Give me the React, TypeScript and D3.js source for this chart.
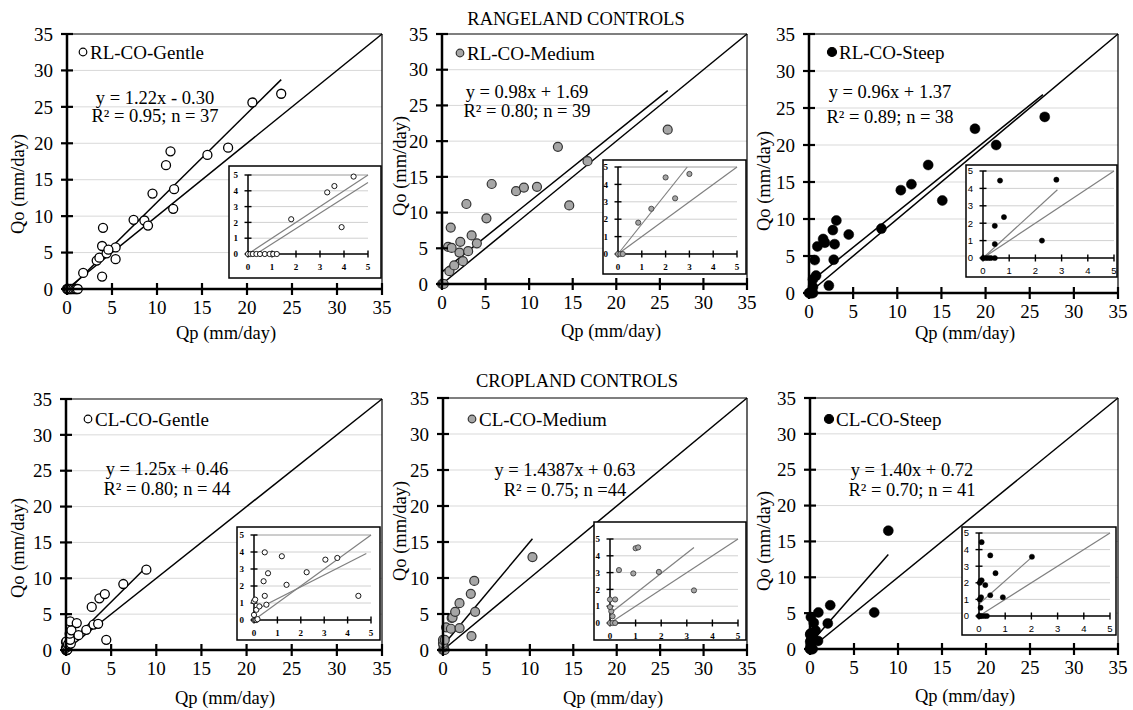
import React from 'react';
import * as d3 from 'd3';

type Pt = [number, number];

// ---------- DATA ----------
const axisTicks = [0, 5, 10, 15, 20, 25, 30, 35];
const insetTicks = [0, 1, 2, 3, 4, 5];
const rowTitles = ['RANGELAND CONTROLS', 'CROPLAND CONTROLS'];
const xLabel = 'Qp (mm/day)';
const yLabel = 'Qo (mm/day)';

const seriesNames = ['RL-CO-Gentle', 'RL-CO-Medium', 'RL-CO-Steep', 'CL-CO-Gentle', 'CL-CO-Medium', 'CL-CO-Steep'];
const equationTexts = ['y = 1.22x - 0.30', 'y = 0.98x + 1.69', 'y = 0.96x + 1.37', 'y = 1.25x + 0.46', 'y = 1.4387x + 0.63', 'y = 1.40x + 0.72'];
const statTexts = ['R² = 0.95; n = 37', 'R² = 0.80; n = 39', 'R² = 0.89; n = 38', 'R² = 0.80; n = 44', 'R² = 0.75; n =44', 'R² = 0.70; n = 41'];
const slopeClasses = ['gentle', 'medium', 'steep', 'gentle', 'medium', 'steep'];

const rlGentle: Pt[] = [
  [0, 0], [0.1, 0], [0.2, 0], [0.35, 0], [0.5, 0], [0.7, 0], [0.9, 0], [1.05, 0], [1.2, 0],
  [1.8, 2.2], [3.3, 3.9], [3.6, 4.3], [4.4, 4.9], [3.9, 1.7],
  [5.4, 5.7], [5.4, 4.1], [3.9, 5.9], [4.6, 5.4], [4.0, 8.4],
  [7.4, 9.5], [8.6, 9.4], [9.0, 8.7], [9.5, 13.1], [11.0, 17.0], [11.5, 18.9],
  [11.9, 13.7], [11.8, 11.0], [15.6, 18.4], [17.9, 19.4], [20.6, 25.6], [23.8, 26.8],
];
const rlMedium: Pt[] = [
  [0, 0], [0.1, 0], [0.2, 0],
  [0.85, 1.8], [1.4, 2.6], [2.0, 4.4], [2.4, 3.2], [3.0, 4.6],
  [0.7, 5.2], [1.1, 5.05], [2.1, 5.9], [3.4, 6.8], [4.0, 5.7], [1.0, 7.9], [2.8, 11.2],
  [5.1, 9.2], [5.7, 14.0], [8.5, 13.0], [9.4, 13.5], [10.9, 13.6], [13.3, 19.2],
  [14.6, 11.0], [16.7, 17.2], [25.9, 21.6],
];
const rlSteep: Pt[] = [
  [0, 0], [0.1, 0], [0.2, 0], [0.3, 0], [0.45, 0],
  [0.45, 0.8], [0.45, 1.85], [0.8, 2.35], [0.65, 4.45], [2.8, 4.5], [2.25, 1.0],
  [0.95, 6.3], [1.6, 7.3], [1.8, 6.8], [2.7, 8.5], [3.1, 9.8], [2.9, 6.6], [4.5, 7.9],
  [8.2, 8.7], [10.4, 13.9], [11.6, 14.7], [13.5, 17.3], [15.1, 12.5],
  [18.8, 22.2], [21.2, 20.0], [26.7, 23.8],
];
const clGentle: Pt[] = [
  [0, 0], [0.05, 0], [0.1, 0], [0.15, 0.05], [0, 0.3], [0.1, 0.6], [0, 1.1], [0.05, 1.2],
  [0.23, 0.8], [0.53, 0.9], [0.46, 1.42], [0.41, 2.28], [0.6, 2.75], [0.46, 3.98],
  [1.19, 3.75], [1.39, 2.07], [2.25, 2.81], [3.05, 3.55], [3.56, 3.65], [4.46, 1.42],
  [2.85, 6.0], [3.7, 7.2], [4.3, 7.8], [6.35, 9.2], [8.9, 11.2],
];
const clMedium: Pt[] = [
  [0, 0], [0.1, 0], [0.2, 0], [0.1, 0.4], [0.05, 0.7], [0, 0.95], [0, 1.4], [0.2, 1.4],
  [0.35, 3.15], [0.91, 2.95], [1.91, 3.04], [3.28, 1.94], [1.0, 4.45], [1.1, 4.5],
  [1.4, 5.3], [3.7, 5.3], [1.9, 6.5], [3.2, 7.8], [3.6, 9.6], [10.3, 12.9],
];
const clSteep: Pt[] = [
  [0, 0], [0.05, 0], [0.1, 0], [0.2, 0], [0.3, 0],
  [0.06, 0.5], [0.03, 1.0], [0.08, 1.13], [0.43, 1.25], [0.91, 1.13], [0.24, 1.86],
  [0.03, 2.0], [0.06, 2.12], [0.1, 2.15], [0.63, 2.58], [2.02, 3.57], [0.43, 3.65], [0.1, 4.45],
  [0.95, 5.1], [2.3, 6.1], [7.3, 5.1], [8.9, 16.5],
];
const panelData = [rlGentle, rlMedium, rlSteep, clGentle, clMedium, clSteep];

const fitSlopes = [1.22, 0.98, 0.96, 1.25, 1.4387, 1.4];
const fitIntercepts = [-0.3, 1.69, 1.37, 0.46, 0.63, 0.72];
const fitXStart = [0.25, 0, 0, 0, 0, 0];
const fitXEnd = [23.8, 25.9, 26.5, 8.9, 10.3, 8.9];

const insetFitSlopes = [0.97, 1.72, 1.38, 0.7, 1.2, 1.4];
const insetFitIntercepts = [-0.33, 0, 0, 0.55, 0.56, 0.72];
const insetFitXStart = [0.34, 0, 0, 0, 0, 0];
const insetFitXEnd = [5, 2.91, 2.84, 4.8, 3.28, 2.02];

// ---------- LAYOUT ----------
const layouts = [
  { x0: 67, x1: 382, yb: 289, yt: 34, box: [229, 166, 152, 112], ip: [248, 368, 254, 175], leg: [83, 52], eq: [155, 104, 122], yl: [18, 184], xl: [226, 339], insetSans: false },
  { x0: 442, x1: 747, yb: 284, yt: 34, box: [603, 160, 143, 114], ip: [618, 737, 254, 167], leg: [460, 53], eq: [527, 98, 117], yl: [400, 166], xl: [611, 337], insetSans: false },
  { x0: 809, x1: 1118, yb: 293, yt: 34, box: [966, 165, 151, 112], ip: [983, 1114, 258, 171], leg: [832, 52], eq: [890, 98, 123], yl: [764, 181], xl: [965, 339], insetSans: true },
  { x0: 66, x1: 382, yb: 650, yt: 399, box: [237, 527, 143, 113], ip: [254, 371, 620, 535], leg: [88, 419], eq: [167, 475, 495], yl: [18, 548], xl: [225, 704], insetSans: false },
  { x0: 443, x1: 747, yb: 650, yt: 398, box: [594, 522, 152, 118], ip: [610, 738, 623, 539], leg: [472, 419], eq: [565, 476, 496], yl: [400, 531], xl: [613, 704], insetSans: false },
  { x0: 810, x1: 1118, yb: 649, yt: 398, box: [962, 527, 154, 108], ip: [979, 1110, 616, 533], leg: [829, 419], eq: [912, 476, 496], yl: [764, 541], xl: [965, 702], insetSans: true },
];
const titlePos = [[576, 25], [577, 387]];

const SERIF = "'Liberation Serif', 'Times New Roman', serif";
const SANS = "'Liberation Sans', Arial, sans-serif";

const markerStyle = (cls: string, big: boolean) => {
  if (cls === 'gentle') return { fill: '#fff', stroke: '#000', strokeWidth: big ? 1.3 : 0.9, r: big ? 4.5 : 2.6 };
  if (cls === 'medium') return { fill: '#a6a6a6', stroke: '#333', strokeWidth: big ? 1.2 : 0.8, r: big ? 4.5 : 2.6 };
  return { fill: '#000', stroke: '#000', strokeWidth: 0.5, r: big ? 5 : 2.6 };
};

function Panel({ i }: { i: number }) {
  const L = layouts[i];
  const data = panelData[i];
  const cls = slopeClasses[i];
  const x = d3.scaleLinear().domain([0, 35]).range([L.x0, L.x1]);
  const y = d3.scaleLinear().domain([0, 35]).range([L.yb, L.yt]);
  const ms = markerStyle(cls, true);
  const mi = markerStyle(cls, false);
  const line = d3.line<Pt>().x(d => x(d[0])).y(d => y(d[1]));
  const fitPts: Pt[] = [fitXStart[i], fitXEnd[i]].map(v => [v, fitSlopes[i] * v + fitIntercepts[i]] as Pt);

  const [bx, by, bw, bh] = L.box;
  const [ix0, ix1, iyb, iyt] = L.ip;
  const ix = d3.scaleLinear().domain([0, 5]).range([ix0, ix1]);
  const iy = d3.scaleLinear().domain([0, 5]).range([iyb, iyt]);
  const iline = d3.line<Pt>().x(d => ix(d[0])).y(d => iy(d[1]));
  const insetOne: Pt[] = [[0, 0], [5, 5]];
  const insetFit: Pt[] = [insetFitXStart[i], insetFitXEnd[i]].map(v => [v, Math.min(5, insetFitSlopes[i] * v + insetFitIntercepts[i])] as Pt);
  const insetPts = data.filter(d => d[0] <= 5.02 && d[1] <= 5.02);
  const iFont = L.insetSans ? SANS : SERIF;
  const iSize = L.insetSans ? 9.5 : 9;
  const iWeight = L.insetSans ? 'normal' : 'bold';

  return (
    <g>
      {axisTicks.filter(t => t > 0 && t < 35).map(t => (
        <line key={'g' + t} x1={x(0)} x2={x(35)} y1={y(t)} y2={y(t)} stroke="#d9d9d9" strokeWidth={1} />
      ))}
      <line x1={x(0)} x2={x(35)} y1={y(35)} y2={y(35)} stroke="#000" strokeWidth={1.2} />
      <line x1={x(35)} x2={x(35)} y1={y(0)} y2={y(35)} stroke="#000" strokeWidth={1.2} />
      <path d={line([[0, 0], [35, 35]]) || ''} stroke="#000" strokeWidth={1.5} fill="none" />
      <path d={line(fitPts) || ''} stroke="#000" strokeWidth={1.5} fill="none" />
      {data.map((d, k) => (
        <circle key={'p' + k} cx={x(d[0])} cy={y(d[1])} r={ms.r} fill={ms.fill} stroke={ms.stroke} strokeWidth={ms.strokeWidth} />
      ))}
      <line x1={x(0)} x2={x(0)} y1={y(0)} y2={y(35)} stroke="#000" strokeWidth={2.5} />
      <line x1={x(0) - 4} x2={x(35)} y1={y(0)} y2={y(0)} stroke="#000" strokeWidth={2.5} />
      {axisTicks.map(t => (
        <g key={'t' + t}>
          <line x1={x(0) - 6} x2={x(0) + 6} y1={y(t)} y2={y(t)} stroke="#000" strokeWidth={2.2} />
          <line x1={x(t)} x2={x(t)} y1={y(0) - 6} y2={y(0) + 6} stroke="#000" strokeWidth={2.2} />
          <text x={x(0) - 14} y={y(t)} dy="0.35em" textAnchor="end" fontFamily={SERIF} fontSize={19}>{t}</text>
          <text x={x(t)} y={y(0) + 18} dy="0.35em" textAnchor="middle" fontFamily={SERIF} fontSize={19}>{t}</text>
        </g>
      ))}
      <text x={L.xl[0]} y={L.xl[1]} textAnchor="middle" fontFamily={SERIF} fontSize={18.5}>{xLabel}</text>
      <text transform={`translate(${L.yl[0]},${L.yl[1]}) rotate(-90)`} dy="0.35em" textAnchor="middle" fontFamily={SERIF} fontSize={18.5}>{yLabel}</text>
      <circle cx={L.leg[0]} cy={L.leg[1]} r={cls === 'steep' ? 4.5 : 3.8} fill={ms.fill} stroke={ms.stroke} strokeWidth={1.2} />
      <text x={L.leg[0] + 7} y={L.leg[1]} dy="0.35em" fontFamily={SERIF} fontSize={19}>{seriesNames[i]}</text>
      <text x={L.eq[0]} y={L.eq[1]} textAnchor="middle" fontFamily={SERIF} fontSize={18.5}>{equationTexts[i]}</text>
      <text x={L.eq[0]} y={L.eq[2]} textAnchor="middle" fontFamily={SERIF} fontSize={18.5}>{statTexts[i]}</text>
      <rect x={bx} y={by} width={bw} height={bh} fill="#fff" stroke="#000" strokeWidth={1.5} />
      {insetTicks.filter(t => t > 0).map(t => (
        <line key={'ig' + t} x1={ix(0)} x2={ix(5)} y1={iy(t)} y2={iy(t)} stroke={t === 5 ? '#9a9a9a' : '#d0d0d0'} strokeWidth={1} />
      ))}
      <path d={iline(insetOne) || ''} stroke="#808080" strokeWidth={1.2} fill="none" />
      <path d={iline(insetFit) || ''} stroke="#808080" strokeWidth={1.2} fill="none" />
      <line x1={ix(0)} x2={ix(0)} y1={iy(0)} y2={iy(5)} stroke="#000" strokeWidth={1.5} />
      <line x1={ix(0)} x2={ix(5)} y1={iy(0)} y2={iy(0)} stroke="#000" strokeWidth={1.5} />
      {insetTicks.map(t => (
        <g key={'it' + t}>
          <line x1={ix(0) - 3.5} x2={ix(0) + 3.5} y1={iy(t)} y2={iy(t)} stroke="#000" strokeWidth={1.4} />
          <line x1={ix(t)} x2={ix(t)} y1={iy(0) - 3.5} y2={iy(0) + 3.5} stroke="#000" strokeWidth={1.4} />
          <text x={ix(0) - 10} y={iy(t)} dy="0.35em" textAnchor="end" fontFamily={iFont} fontSize={iSize} fontWeight={iWeight}>{t}</text>
          <text x={ix(t)} y={iy(0) + 13} dy="0.35em" textAnchor="middle" fontFamily={iFont} fontSize={iSize} fontWeight={iWeight}>{t}</text>
        </g>
      ))}
      {insetPts.map((d, k) => (
        <circle key={'ip' + k} cx={ix(d[0])} cy={iy(d[1])} r={mi.r} fill={mi.fill} stroke={mi.stroke} strokeWidth={mi.strokeWidth} />
      ))}
    </g>
  );
}

export default function App() {
  return (
    <svg width={1133} height={710} viewBox="0 0 1133 710" style={{ position: 'absolute', left: 0, top: 0, background: '#fff' }}>
      <rect x={0} y={0} width={1133} height={710} fill="#fff" />
      {rowTitles.map((t, k) => (
        <text key={t} x={titlePos[k][0]} y={titlePos[k][1]} textAnchor="middle" fontFamily={SERIF} fontSize={18.5}>{t}</text>
      ))}
      {layouts.map((_, i) => <Panel key={i} i={i} />)}
    </svg>
  );
}
